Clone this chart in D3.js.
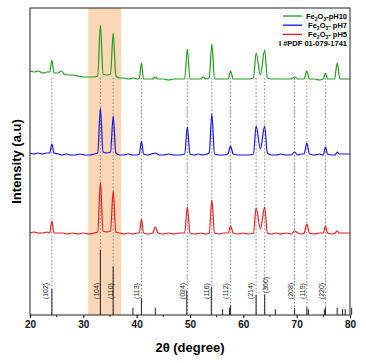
<!DOCTYPE html>
<html>
<head>
<meta charset="utf-8">
<script src="https://cdn.jsdelivr.net/npm/d3@7"></script>
<style>
  body { margin: 0; background: #fff; }
  svg { font-family: "Liberation Sans", Arial, sans-serif; }
</style>
</head>
<body>
<svg id="chart" width="366" height="363"></svg>
<script>
// XRD patterns, [2theta, intensity a.u.]
const pH10 = [[20,244],[20.8,243],[21.6,244],[22.4,242],[23.2,243],[23.7,243],[24.1,255],[24.5,242],[25.2,242],[25.9,244],[26.4,241],[27.2,240],[28,240],[29,239],[30,238],[31,238],[32,238],[32.7,239],[33.2,290],[33.7,241],[34.4,240],[35.1,241],[35.6,282],[36.1,239],[36.8,237],[37.6,237],[38.5,236],[39.3,237],[40.1,236],[40.5,237],[40.9,252],[41.3,236],[42.2,236],[43,236],[43.5,238],[44,236],[45,236],[46,235],[47,236],[48,236],[49,236],[49.5,266],[50,236],[51,236],[52,236],[52.5,238],[53,236],[53.6,237],[54.1,271],[54.6,236],[55.5,236],[56.3,236],[57.2,236],[57.6,244],[58.1,236],[59,236],[60,236],[61,236],[61.9,237],[62.4,262],[63.2,240],[64,265],[64.5,237],[65.3,236],[66.2,236],[67,236],[68,236],[69,236],[69.6,238],[70.2,236],[71,236],[71.4,236],[71.9,244],[72.4,236],[73.3,236],[74.2,235],[75,236],[75.4,242],[75.8,236],[76.5,236],[77.1,236],[77.6,252],[78.1,236],[79,236],[80,236]];

const pH7 = [[20,162],[20.7,161],[21.5,162],[22.3,161],[23.1,162],[23.7,162],[24.1,171],[24.5,162],[25.3,161],[26,160],[26.8,161],[27.6,160],[28.5,160],[29.4,161],[30.3,160],[31.2,160],[32,161],[32.7,162],[33.2,207],[33.7,163],[34.4,162],[35.1,163],[35.6,199],[36.1,162],[36.8,160],[37.6,160],[38.4,161],[39.2,160],[40.1,160],[40.5,161],[40.9,174],[41.3,161],[42,160],[42.8,161],[43.5,162],[44.2,160],[45,160],[46,161],[47,160],[48,160],[49,161],[49.5,188],[50,161],[50.8,160],[51.6,161],[52.4,160],[53.2,161],[53.6,162],[54.1,201],[54.6,161],[55.4,160],[56.2,160],[57.1,161],[57.6,169],[58.1,161],[59,160],[60,160],[61,160],[61.9,161],[62.4,189],[63.2,166],[64,189],[64.5,162],[65.3,160],[66.2,160],[67,161],[68,160],[69,160],[69.6,163],[70.2,160],[71,161],[71.4,161],[71.9,172],[72.4,161],[73.3,160],[74.2,161],[75,160],[75.4,168],[75.8,161],[76.6,160],[77.2,160],[77.6,163],[78,161],[79,161],[80,161]];

const pH5 = [[20,82],[20.8,83],[21.6,82],[22.4,82],[23.2,83],[23.7,82],[24.1,94],[24.5,82],[25.3,82],[26.2,82],[27,81],[28,82],[29,81],[30,82],[31,81],[32,82],[32.7,83],[33.2,133],[33.7,84],[34.4,83],[35.1,84],[35.6,124],[36.1,83],[36.8,82],[37.6,81],[38.5,82],[39.3,81],[40.1,82],[40.5,82],[40.9,96],[41.3,82],[42.2,81],[43,82],[43.5,88],[44,82],[45,81],[46,82],[47,81],[48,82],[49,82],[49.5,108],[50,82],[51,81],[52,82],[53,81],[53.6,82],[54.1,115],[54.6,82],[55.5,81],[56.3,82],[57.2,82],[57.6,89],[58.1,82],[59,81],[60,82],[61,81],[61.9,82],[62.4,107],[63.2,86],[64,108],[64.5,82],[65.3,81],[66.2,82],[67,81],[68,82],[69,81],[69.6,84],[70.2,82],[71,81],[71.4,82],[71.9,91],[72.4,82],[73.3,81],[74.2,82],[75,82],[75.4,89],[75.8,82],[76.6,81],[77.2,82],[77.6,84],[78,82],[79,82],[80,82]];

// reference card PDF 01-079-1741, [2theta, relative intensity]
const pdfSticks = [[24.1,40],[33.2,100],[35.6,75],[39.3,11],[40.9,26],[43.5,11],[49.4,38],[54.0,43],[56.1,9],[57.4,11],[57.6,15],[62.4,31],[64.0,32],[66.0,9],[69.6,11],[71.9,12],[72.2,9],[75.2,9],[75.4,12],[77.6,11],[78.6,9],[79.1,9],[80.3,11]];

// indexed reflections: hkl, peak position, label anchor (2theta)
const hklNames = ["(102)","(104)","(110)","(113)","(024)","(116)","(112)","(214)","(300)","(208)","(119)","(220)"];
const hklPeaks = [24.1, 33.2, 35.6, 40.9, 49.5, 54.1, 57.6, 62.4, 64.0, 69.6, 71.9, 75.4];
const hklLabelAt = [22.9, 32.4, 35.0, 39.9, 48.6, 53.1, 56.7, 61.4, 64.1, 68.75, 71.1, 74.6];

const xTicks = [20, 30, 40, 50, 60, 70, 80];
const highlight = [30.9, 37.1];

const series = [
  { name: "pH10", data: pH10, color: "#1e9e1e" },
  { name: " pH7", data: pH7, color: "#1414ee" },
  { name: " pH5", data: pH5, color: "#ee1c1c" }
];

const mLeft = 30, mRight = 350, mTop = 8, mBottom = 315;
const svg = d3.select("#chart");

const x = d3.scaleLinear().domain([20, 80]).range([mLeft, mRight]);
const y = d3.scaleLinear().domain([0, 307]).range([mBottom, mTop]);
const ys = d3.scaleLinear().domain([0, 100]).range([mBottom, 250]);

// highlighted 2theta range
svg.append("rect")
  .attr("x", x(highlight[0]))
  .attr("y", mTop)
  .attr("width", x(highlight[1]) - x(highlight[0]))
  .attr("height", mBottom - mTop)
  .attr("fill", "#fcd7b6");

// dotted guide lines
svg.selectAll(".guide")
  .data(hklPeaks)
  .enter()
  .append("line")
  .attr("x1", d => x(d)).attr("x2", d => x(d))
  .attr("y1", y(237)).attr("y2", mBottom)
  .attr("stroke", "#8a8a8a")
  .attr("stroke-width", 1)
  .attr("stroke-dasharray", "1.5,2");

// reference sticks
svg.selectAll(".stick")
  .data(pdfSticks)
  .enter()
  .append("line")
  .attr("x1", d => x(d[0])).attr("x2", d => x(d[0]))
  .attr("y1", mBottom).attr("y2", d => ys(d[1]))
  .attr("stroke", "#333")
  .attr("stroke-width", 1.1);

// hkl labels
svg.selectAll(".hkl")
  .data(hklNames)
  .enter()
  .append("text")
  .attr("transform", (d, i) => `translate(${x(hklLabelAt[i]) + 2.5},${i === 8 ? 285 : 291}) rotate(-90)`)
  .attr("text-anchor", "middle")
  .style("font-size", "7px")
  .attr("fill", "#222")
  .text(d => d);

// patterns
const line = d3.line()
  .x(d => x(d[0]))
  .y(d => y(d[1]))
  .curve(d3.curveMonotoneX);

series.forEach(s => {
  svg.append("path")
    .datum(s.data)
    .attr("d", line)
    .attr("fill", "none")
    .attr("stroke", s.color)
    .attr("stroke-width", 1.2);
});

// frame
svg.append("rect")
  .attr("x", mLeft).attr("y", mTop)
  .attr("width", mRight - mLeft).attr("height", mBottom - mTop)
  .attr("fill", "none")
  .attr("stroke", "#222")
  .attr("stroke-width", 1);

// x axis
const xAxis = svg.append("g")
  .attr("transform", `translate(0,${mBottom})`)
  .call(d3.axisBottom(x).tickValues(xTicks).tickSize(3).tickPadding(3).tickFormat(d3.format("d")));
xAxis.select(".domain").remove();
xAxis.selectAll("text")
  .style("font-size", "10px")
  .style("font-weight", "bold")
  .attr("fill", "#111");

svg.append("g")
  .attr("transform", `translate(0,${mBottom})`)
  .selectAll("line")
  .data([25, 35, 45, 55, 65, 75])
  .enter()
  .append("line")
  .attr("x1", d => x(d)).attr("x2", d => x(d))
  .attr("y1", 0).attr("y2", 2)
  .attr("stroke", "#222");

// axis titles
svg.append("text")
  .attr("x", (mLeft + mRight) / 2)
  .attr("y", 352)
  .attr("text-anchor", "middle")
  .style("font-size", "13px")
  .style("font-weight", "bold")
  .text("2\u03b8 (degree)");

svg.append("text")
  .attr("transform", `translate(21,${(mTop + mBottom) / 2}) rotate(-90)`)
  .attr("text-anchor", "middle")
  .style("font-size", "13px")
  .style("font-weight", "bold")
  .text("Intensity (a.u)");

// legend
const legend = svg.append("g");
series.forEach((s, i) => {
  const ly = 16 + i * 9.2;
  legend.append("line")
    .attr("x1", 283).attr("x2", 302)
    .attr("y1", ly).attr("y2", ly)
    .attr("stroke", s.color)
    .attr("stroke-width", 1.3);
  const t = legend.append("text")
    .attr("x", 347).attr("y", ly + 2.8)
    .attr("text-anchor", "end")
    .style("font-size", "7.5px")
    .style("font-weight", "bold");
  t.append("tspan").text("Fe");
  t.append("tspan").attr("dy", 1.8).style("font-size", "5px").text("2");
  t.append("tspan").attr("dy", -1.8).text("O");
  t.append("tspan").attr("dy", 1.8).style("font-size", "5px").text("3");
  t.append("tspan").attr("dy", -1.8).text("-" + s.name);
});
legend.append("text")
  .attr("x", 347).attr("y", 16 + 3 * 9.2 + 2.8)
  .attr("text-anchor", "end")
  .style("font-size", "7.5px")
  .style("font-weight", "bold")
  .text("I #PDF 01-079-1741");
</script>
</body>
</html>
